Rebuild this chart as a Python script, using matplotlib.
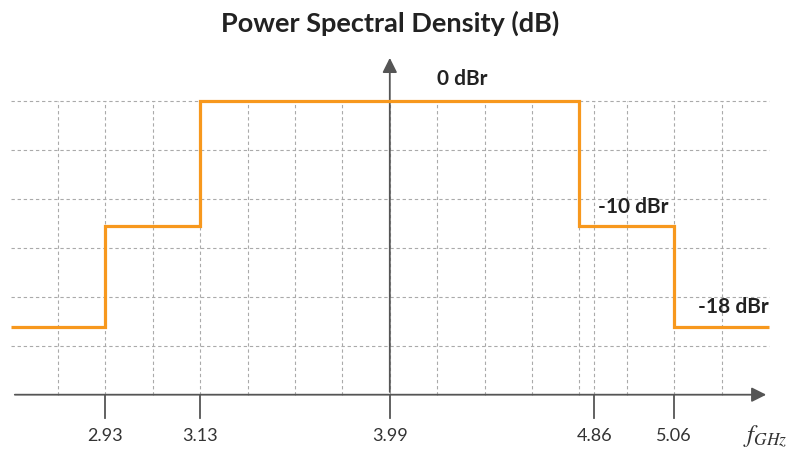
import matplotlib.pyplot as plt
import numpy as np

plt.rcParams['font.family'] = ['Lato', 'DejaVu Sans']
plt.rcParams['mathtext.fontset'] = 'stix'

# schematic data: step edges (drawing positions), levels in dBr
edge_pos = [0, 2, 4, 12, 14, 16]
levels_db = [-18, -10, 0, -10, -18]
tick_pos = [2, 4, 8, 12.31, 14]
tick_labels = ['2.93', '3.13', '3.99', '4.86', '5.06']
level_labels = ['0 dBr', '-10 dBr', '-18 dBr']
label_pos = [(9.52, 1.75), (13.13, -8.5), (15.24, -16.45)]

db_per_grid = 3.9
axis_db = -6 * db_per_grid
orange = '#F7981D'
axis_col = '#555555'
grid_col = '#aaaaaa'

fig = plt.figure(figsize=(7.89, 4.51), dpi=100)
ax = fig.add_axes([0, 0, 1, 1])
ax.set_xlim(-10.6 / 47.4, (789 - 10.6) / 47.4)
ax.set_ylim(axis_db - (451 - 394.7) / 49 * db_per_grid, axis_db + 394.7 / 49 * db_per_grid)
ax.axis('off')

# grid
grid_y = -db_per_grid * np.arange(0, 6)
grid_x = list(range(1, 16)) + [12.31]
for gy in grid_y:
    ax.plot([0, 16], [gy, gy], color=grid_col, lw=0.8, ls=(0, (3, 2.5)), zorder=1)
for gx in grid_x:
    ax.plot([gx, gx], [axis_db, 0], color=grid_col, lw=0.8, ls=(0, (3, 2.5)), zorder=1)

# axes with arrows
ax.annotate('', xy=(16.0, axis_db), xytext=(0.03, axis_db),
            arrowprops=dict(arrowstyle='-|>', color=axis_col, lw=1.3, mutation_scale=22), zorder=3)
ax.annotate('', xy=(8, 3.63), xytext=(8, axis_db),
            arrowprops=dict(arrowstyle='-|>', color=axis_col, lw=1.3, mutation_scale=22), zorder=3)

# ticks
for tp, tl in zip(tick_pos, tick_labels):
    ax.plot([tp, tp], [axis_db, axis_db - 0.47 * db_per_grid], color=axis_col, lw=1.3, zorder=3)
    ax.text(tp, axis_db - 0.85 * db_per_grid, tl, ha='center', va='center', fontsize=13, color='#333333')
ax.text(15.45, axis_db - 0.85 * db_per_grid, r'$f_{GHz}$', ha='left', va='center', fontsize=18, color='#333333')

# spectrum mask
ax.stairs(levels_db, edge_pos, color=orange, lw=2.3, zorder=4, baseline=None)

for (lx, ly), lt in zip(label_pos, level_labels):
    ax.text(lx, ly, lt, ha='center', va='center', fontsize=15, fontweight='bold', color='#222222')

ax.text(8.0, axis_db + 7.58 * db_per_grid, 'Power Spectral Density (dB)', ha='center', va='center',
        fontsize=19.5, fontweight='bold', color='#222222')

fig.savefig('out.png', dpi=100)
